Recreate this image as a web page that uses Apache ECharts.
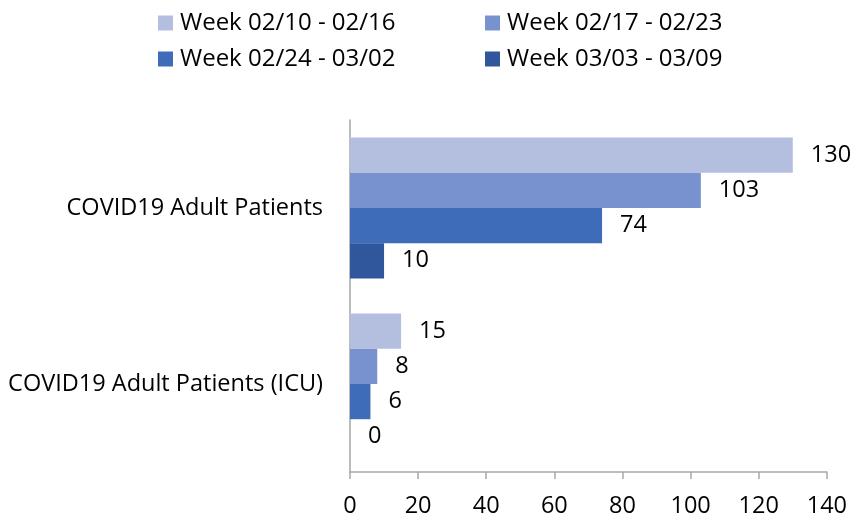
<!DOCTYPE html>
<html>
<head>
<meta charset="utf-8">
<script src="https://cdn.jsdelivr.net/npm/echarts@6/dist/echarts.min.js"></script>
<style>
  html, body { margin: 0; padding: 0; background: #fff; }
  #chart { width: 850px; height: 519px; }
</style>
</head>
<body>
<div id="chart"></div>
<script>
  var categories = ['COVID19 Adult Patients', 'COVID19 Adult Patients (ICU)'];
  var seriesNames = ['Week 02/10 - 02/16', 'Week 02/17 - 02/23', 'Week 02/24 - 03/02', 'Week 03/03 - 03/09'];
  var week1 = [130, 15];
  var week2 = [103, 8];
  var week3 = [74, 6];
  var week4 = [10, 0];
  var colors = ['#b4bfe0', '#7892cf', '#3f6cb9', '#30579b'];

  var values = [week1, week2, week3, week4];
  var font = 'Open Sans';

  // one legend per item so they sit in a 2x2 layout
  var legendPos = [
    { left: 153, top: 6 },
    { left: 480, top: 6 },
    { left: 153, top: 42 },
    { left: 480, top: 42 }
  ];
  var legends = seriesNames.map(function (name, i) {
    return {
      data: [name],
      left: legendPos[i].left,
      top: legendPos[i].top,
      icon: 'rect',
      itemWidth: 15,
      itemHeight: 15,
      itemGap: 0,
      selectedMode: false,
      textStyle: { fontFamily: font, fontSize: 24, color: '#000', padding: [0, 0, 0, 2] }
    };
  });

  var chart = echarts.init(document.getElementById('chart'));
  chart.setOption({
    animation: false,
    color: colors,
    legend: legends,
    grid: { left: 350, right: 22, top: 120, bottom: 47 },
    xAxis: {
      type: 'value',
      min: 0,
      max: 140,
      interval: 20,
      splitLine: { show: false },
      axisLine: { show: true, lineStyle: { color: '#a6a6a6', width: 1.5 } },
      axisTick: { show: true, length: 7, lineStyle: { color: '#a6a6a6', width: 1.5 } },
      axisLabel: { fontFamily: font, fontSize: 23.5, color: '#000', margin: 22 }
    },
    yAxis: {
      type: 'category',
      data: categories,
      inverse: true,
      axisLine: { show: true, lineStyle: { color: '#a6a6a6', width: 1.5 } },
      axisTick: { show: false },
      axisLabel: { fontFamily: font, fontSize: 23.5, color: '#000', margin: 27 }
    },
    series: seriesNames.map(function (name, i) {
      return {
        name: name,
        type: 'bar',
        data: values[i],
        barGap: '0%',
        barCategoryGap: '20%',
        itemStyle: { color: colors[i] },
        label: {
          show: true,
          position: 'right',
          distance: 18,
          fontFamily: font,
          fontSize: 23.5,
          color: '#000'
        }
      };
    })
  });
</script>
</body>
</html>
